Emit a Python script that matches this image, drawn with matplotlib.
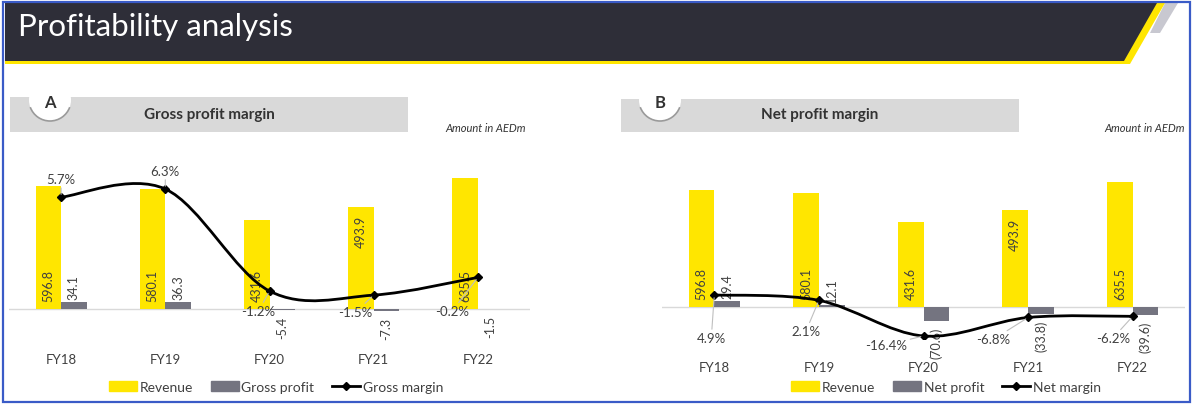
import numpy as np
import matplotlib.pyplot as plt
from matplotlib.patches import Polygon, Rectangle, Circle, Arc, Patch, PathPatch
from matplotlib.lines import Line2D
from matplotlib.path import Path

plt.rcParams['font.family'] = ['Lato', 'DejaVu Sans']

years = ['FY18', 'FY19', 'FY20', 'FY21', 'FY22']
revenue = [596.8, 580.1, 431.6, 493.9, 635.5]
gross_profit = [34.1, 36.3, -5.4, -7.3, -1.5]
gross_margin = [5.7, 6.3, -1.2, -1.5, -0.2]
net_profit = [29.4, 12.1, -70.6, -33.8, -39.6]
net_margin = [4.9, 2.1, -16.4, -6.8, -6.2]

YELLOW = '#FFE600'
GREY = '#747480'
DARK = '#2E2E38'
TXT = '#404040'
LEADER = '#BFBFBF'

W, H = 1194, 406
fig = plt.figure(figsize=(W / 100, H / 100), dpi=100)

# decorations drawn in pixel space
bg = fig.add_axes([0, 0, 1, 1])
bg.set_xlim(0, W)
bg.set_ylim(H, 0)
bg.axis('off')

bg.add_patch(Polygon([(1165, 4), (1178, 4), (1160, 34), (1150, 34)], color='#C8C8D0', lw=0))
bg.add_patch(Polygon([(5, 4), (1165, 4), (1130, 65), (5, 65)], color=YELLOW, lw=0))
bg.add_patch(Polygon([(5, 4), (1157, 4), (1124, 62), (5, 62)], color=DARK, lw=0))
bg.text(18, 27, 'Profitability analysis', color='white', fontsize=22.5, va='center', ha='left')
bg.add_patch(Rectangle((3, 3), 1187, 400, fill=False, ec='#3A5BC7', lw=1.6))


def banner(x0, x1, y0, y1, letter, title, cx, note_x):
    bg.add_patch(Rectangle((x0, y0), x1 - x0, y1 - y0, color='#D9D9D9', lw=0))
    bg.add_patch(Circle((cx, 101), 21, color='white', lw=0))
    bg.add_patch(Arc((cx, 101), 42, 42, theta1=20, theta2=160, color='#9A9A9A', lw=1.2))
    bg.text(cx, 103, letter, fontsize=12, fontweight='bold', color='#333333', ha='center', va='center')
    bg.text((x0 + x1) / 2, 115, title, fontsize=11, fontweight='bold', color='#333333',
            ha='center', va='center')
    bg.text(note_x, 128, 'Amount in AEDm', fontsize=8, style='italic', color='#333333',
            ha='center', va='center')


banner(10, 408, 98, 133, 'A', 'Gross profit margin', 50, 486)
banner(621, 1019, 100, 133, 'B', 'Net profit margin', 660, 1145)


def smooth_path(x, y):
    x = np.asarray(x, float)
    y = np.asarray(y, float)
    px = np.r_[x[0], x, x[-1]]
    py = np.r_[y[0], y, y[-1]]
    verts = [(x[0], y[0])]
    codes = [Path.MOVETO]
    for i in range(len(x) - 1):
        c1 = (px[i + 1] + (px[i + 2] - px[i]) / 6, py[i + 1] + (py[i + 2] - py[i]) / 6)
        c2 = (px[i + 2] - (px[i + 3] - px[i + 1]) / 6, py[i + 2] - (py[i + 3] - py[i + 1]) / 6)
        verts += [c1, c2, (x[i + 1], y[i + 1])]
        codes += [Path.CURVE4] * 3
    return Path(verts, codes)


def chart(x0, x1, ylim1, ylim2, prof, marg, prof_fmt, marg_offs, labels, legend_x, tick_pad):
    ax = fig.add_axes([x0 / W, 1 - 340 / H, (x1 - x0) / W, 190 / H])
    ax.patch.set_alpha(0)
    x = np.arange(len(years))
    w = 0.245
    ax.bar(x - w, revenue, w, align='edge', color=YELLOW, zorder=2)
    ax.bar(x, prof, w, align='edge', color=GREY, zorder=2)
    ax.axhline(0, color='#D9D9D9', lw=1, zorder=1)
    ax.set_xlim(-0.5, 4.5)
    ax.set_ylim(*ylim1)
    ax.set_yticks([])
    ax.set_xticks(x, years)
    ax.tick_params(length=0, pad=tick_pad, labelsize=9.5, labelcolor=TXT)
    for s in ax.spines.values():
        s.set_visible(False)

    for i, v in enumerate(revenue):
        if i == 3:
            ax.annotate(f'{v:.1f}', (i - w / 2, v), xytext=(0, -8), textcoords='offset pixels',
                        rotation=90, ha='center', va='top', fontsize=9, color=TXT, zorder=3)
        else:
            ax.annotate(f'{v:.1f}', (i - w / 2, 0), xytext=(0, 8), textcoords='offset pixels',
                        rotation=90, ha='center', va='bottom', fontsize=9, color=TXT, zorder=3)
    for i, v in enumerate(prof):
        off, va = ((0, 3), 'bottom') if v >= 0 else ((0, -6), 'top')
        ax.annotate(prof_fmt(v), (i + w / 2, v), xytext=off, textcoords='offset pixels',
                    rotation=90, ha='center', va=va, fontsize=9, color=TXT, zorder=3)

    ax2 = ax.twinx()
    ax2.set_ylim(*ylim2)
    ax2.axis('off')
    ax2.add_patch(PathPatch(smooth_path(x, marg), fill=False, ec='black', lw=2, zorder=4))
    ax2.plot(x, marg, 'D', ms=4, color='black', zorder=5)
    for i, v in enumerate(marg):
        dx, dy = marg_offs[i]
        arrow = None
        if abs(dx) + abs(dy) > 22 or dy < 0:
            arrow = dict(arrowstyle='-', color=LEADER, lw=0.8, shrinkA=0, shrinkB=2)
        ax2.annotate(f'{v:.1f}%', (i, v), xytext=(dx, -dy), textcoords='offset pixels',
                     ha='center', va='center', fontsize=9.5, color=TXT, arrowprops=arrow,
                     zorder=6)

    handles = [Patch(color=YELLOW), Patch(color=GREY),
               Line2D([], [], color='black', lw=2, marker='D', ms=4)]
    fig.legend(handles, labels, loc='center', bbox_to_anchor=(legend_x / W, 1 - 388 / H),
               ncol=3, frameon=False, fontsize=10, handlelength=2.0, handletextpad=0.2,
               columnspacing=1.3, labelcolor=TXT)
    return ax


# left: baseline at y=310 px, 0.206 px per AEDm, margin zero at 275.7 px, 13.6 px per %
chart(9, 530, (-(340 - 310) / 0.206, (310 - 150) / 0.206),
      (-(340 - 275.7) / 13.6, (275.7 - 150) / 13.6),
      gross_profit, gross_margin, lambda v: f'{v:.1f}',
      [(0, -18), (0, -18), (-11, 20), (-18, 17), (-26, 34)],
      ['Revenue', 'Gross profit', 'Gross margin'], 276, 10)

# right: baseline at y=308 px, 0.196 px per AEDm, margin zero at 305.4 px, 1.925 px per %
chart(662, 1185, (-(340 - 308) / 0.196, (308 - 150) / 0.196),
      (-(340 - 305.4) / 1.925, (305.4 - 150) / 1.925),
      net_profit, net_margin, lambda v: f'{v:.1f}' if v >= 0 else f'({-v:.1f})',
      [(-3, 43), (-13, 31), (-37, 9), (-35, 22), (-20, 22)],
      ['Revenue', 'Net profit', 'Net margin'], 946, 16)

fig.savefig('out.png', dpi=100)
